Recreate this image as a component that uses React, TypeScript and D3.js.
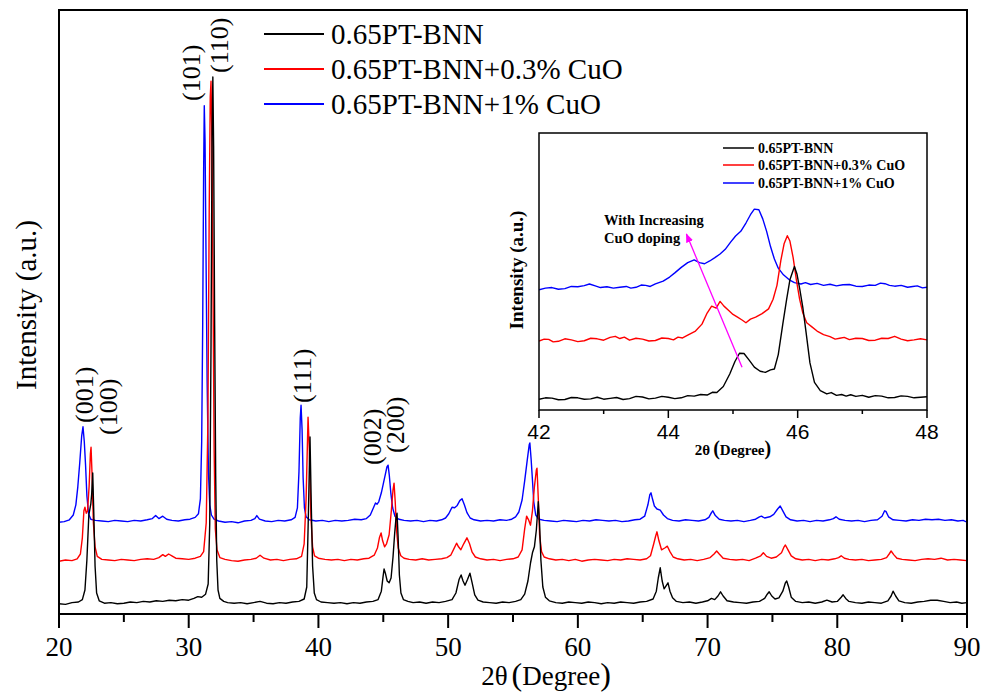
import React from "react";
import * as d3 from "d3";

type Pt = [number, number];

// Series names, colours and vertical stacking offsets
const seriesNames = ["0.65PT-BNN", "0.65PT-BNN+0.3% CuO", "0.65PT-BNN+1% CuO"];
const seriesColors = ["#000000", "#ff0000", "#0000ff"];
const seriesOffsets = [0, 72, 137];

// XRD patterns, 2θ (deg) vs intensity (a.u.)
const blackPattern: Pt[] = [
  [20.0,17],[20.5,16],[21.0,19],[21.5,20],[21.8,24],[22.0,40],[22.15,90],[22.3,165],[22.45,183],[22.52,200],[22.6,235],[22.68,170],[22.78,80],[22.9,35],[23.1,22],[23.5,18],[24.0,19],[24.5,17],[25.0,18],[25.5,20],[26.0,19],[26.5,21],[27.0,20],[27.5,22],[28.0,21],[28.5,23],[29.0,22],[29.5,24],[30.0,23],[30.4,26],[30.7,29],[31.0,28],[31.3,33],[31.5,50],[31.62,150],[31.72,450],[31.8,800],[31.86,895],[31.92,780],[32.0,480],[32.08,230],[32.16,90],[32.26,40],[32.4,26],[32.7,21],[33.0,19],[33.5,18],[34.0,19],[34.5,17],[35.0,19],[35.5,21],[36.0,18],[36.5,17],[37.0,19],[37.5,18],[38.0,20],[38.5,21],[38.9,25],[39.1,45],[39.22,160],[39.35,295],[39.45,180],[39.55,80],[39.68,35],[39.85,24],[40.2,20],[40.7,19],[41.2,18],[41.7,19],[42.2,17],[42.7,19],[43.2,18],[43.7,20],[44.2,21],[44.6,24],[44.85,38],[44.98,62],[45.06,75],[45.16,68],[45.3,55],[45.45,52],[45.6,60],[45.75,95],[45.88,135],[45.98,160],[46.06,168],[46.14,130],[46.24,65],[46.36,35],[46.55,24],[46.9,21],[47.3,19],[47.8,20],[48.3,18],[48.8,20],[49.3,19],[49.8,21],[50.3,24],[50.6,35],[50.85,58],[51.0,65],[51.15,55],[51.3,48],[51.5,58],[51.68,68],[51.85,52],[52.05,32],[52.3,23],[52.7,20],[53.2,19],[53.7,18],[54.2,20],[54.7,19],[55.2,21],[55.6,24],[55.9,33],[56.15,55],[56.35,85],[56.5,102],[56.65,112],[56.8,140],[56.95,187],[57.05,150],[57.15,90],[57.3,45],[57.5,28],[57.8,22],[58.3,19],[58.8,18],[59.3,20],[59.8,19],[60.3,18],[60.8,20],[61.3,19],[61.8,17],[62.3,19],[62.8,18],[63.3,20],[63.8,19],[64.3,18],[64.8,20],[65.3,21],[65.8,25],[66.05,38],[66.2,60],[66.35,77],[66.5,55],[66.65,42],[66.8,47],[66.95,52],[67.1,38],[67.3,27],[67.6,21],[68.1,19],[68.6,20],[69.1,18],[69.6,20],[70.0,22],[70.3,26],[70.55,24],[70.8,30],[71.0,37],[71.2,30],[71.5,22],[72.0,20],[72.5,19],[73.0,18],[73.5,20],[74.0,21],[74.4,26],[74.6,33],[74.75,37],[74.95,30],[75.2,25],[75.5,27],[75.8,38],[76.0,52],[76.1,55],[76.25,45],[76.45,28],[76.8,21],[77.3,19],[77.8,20],[78.3,18],[78.8,20],[79.2,23],[79.6,20],[80.0,21],[80.3,28],[80.45,32],[80.65,26],[80.9,21],[81.4,19],[81.9,18],[82.4,20],[82.9,19],[83.4,18],[83.9,22],[84.15,30],[84.3,38],[84.5,30],[84.75,22],[85.2,19],[85.7,18],[86.2,20],[86.7,21],[87.2,23],[87.7,23],[88.2,21],[88.7,19],[89.2,20],[89.6,18],[90.0,19],
];

const redPattern: Pt[] = [
  [20.0,16],[20.5,18],[21.0,17],[21.4,20],[21.65,28],[21.8,55],[21.92,100],[22.0,106],[22.1,96],[22.2,100],[22.32,140],[22.42,195],[22.47,206],[22.55,160],[22.65,80],[22.78,40],[22.95,24],[23.3,19],[23.8,18],[24.3,17],[24.8,19],[25.3,18],[25.8,17],[26.3,19],[26.8,20],[27.3,19],[27.7,22],[28.0,27],[28.2,24],[28.45,28],[28.7,25],[29.0,21],[29.5,20],[30.0,19],[30.5,21],[30.9,24],[31.15,32],[31.35,80],[31.48,250],[31.58,600],[31.66,790],[31.72,816],[31.8,700],[31.88,450],[31.96,200],[32.05,70],[32.18,35],[32.4,22],[32.8,19],[33.3,17],[33.8,16],[34.3,18],[34.8,19],[35.2,21],[35.5,26],[35.8,21],[36.3,18],[36.8,19],[37.3,17],[37.8,19],[38.3,20],[38.7,24],[38.9,45],[39.05,120],[39.2,256],[39.3,200],[39.42,90],[39.55,40],[39.7,25],[40.0,21],[40.5,19],[41.0,18],[41.5,19],[42.0,17],[42.5,19],[43.0,18],[43.5,20],[43.9,21],[44.3,26],[44.55,38],[44.7,55],[44.83,63],[44.95,50],[45.1,40],[45.25,45],[45.45,60],[45.62,100],[45.75,135],[45.83,146],[45.92,115],[46.02,68],[46.15,38],[46.35,25],[46.6,21],[47.0,19],[47.5,18],[48.0,20],[48.5,18],[49.0,19],[49.5,20],[49.9,22],[50.2,26],[50.45,37],[50.65,46],[50.8,40],[50.98,35],[51.2,45],[51.45,55],[51.65,45],[51.85,31],[52.1,23],[52.5,20],[53.0,18],[53.5,19],[54.0,17],[54.5,19],[55.0,20],[55.4,23],[55.7,35],[55.9,70],[56.05,91],[56.2,85],[56.35,76],[56.5,100],[56.65,140],[56.8,168],[56.85,171],[56.95,120],[57.05,60],[57.2,32],[57.4,23],[57.8,20],[58.3,18],[58.8,19],[59.3,17],[59.8,19],[60.3,16],[60.8,18],[61.3,19],[61.8,18],[62.3,17],[62.8,19],[63.3,18],[63.8,20],[64.3,19],[64.8,18],[65.3,20],[65.6,25],[65.85,45],[66.0,58],[66.1,65],[66.25,50],[66.45,35],[66.7,38],[66.9,41],[67.1,32],[67.35,23],[67.7,20],[68.2,18],[68.7,19],[69.2,17],[69.7,19],[70.2,22],[70.5,28],[70.7,33],[70.9,28],[71.2,21],[71.7,19],[72.2,18],[72.7,19],[73.2,17],[73.7,21],[74.1,25],[74.3,30],[74.55,24],[74.9,21],[75.3,23],[75.7,30],[75.9,40],[76.0,43],[76.2,35],[76.45,25],[76.8,20],[77.3,18],[77.8,19],[78.3,17],[78.8,19],[79.3,18],[79.8,20],[80.1,22],[80.3,25],[80.55,21],[80.9,19],[81.4,18],[81.9,19],[82.4,17],[82.9,18],[83.4,19],[83.8,22],[84.0,28],[84.15,33],[84.35,27],[84.6,21],[85.0,19],[85.5,18],[86.0,17],[86.5,19],[87.0,20],[87.5,19],[88.0,21],[88.5,18],[89.0,19],[89.5,18],[90.0,17],
];

const bluePattern: Pt[] = [
  [20.0,16],[20.4,17],[20.8,20],[21.1,28],[21.3,45],[21.45,75],[21.6,115],[21.75,160],[21.85,175],[21.95,150],[22.05,110],[22.15,60],[22.28,30],[22.45,21],[22.8,19],[23.3,18],[23.8,17],[24.3,19],[24.8,18],[25.3,17],[25.8,19],[26.3,18],[26.8,20],[27.2,22],[27.45,27],[27.7,22],[28.0,26],[28.3,21],[28.7,19],[29.2,18],[29.7,20],[30.1,21],[30.5,24],[30.75,30],[30.9,55],[31.0,150],[31.08,350],[31.15,600],[31.2,710],[31.26,650],[31.33,470],[31.42,250],[31.52,100],[31.62,45],[31.75,28],[31.95,21],[32.3,18],[32.8,16],[33.3,17],[33.8,15],[34.3,18],[34.8,19],[35.1,22],[35.25,27],[35.45,21],[35.9,18],[36.4,17],[36.9,19],[37.4,18],[37.9,20],[38.2,24],[38.38,40],[38.5,100],[38.6,190],[38.66,211],[38.74,170],[38.82,90],[38.92,40],[39.05,25],[39.3,20],[39.8,18],[40.3,19],[40.8,17],[41.3,19],[41.8,18],[42.3,19],[42.8,21],[43.3,20],[43.7,22],[44.0,28],[44.2,38],[44.4,48],[44.52,46],[44.65,50],[44.85,65],[45.0,80],[45.15,95],[45.28,108],[45.37,111],[45.46,95],[45.58,65],[45.72,40],[45.9,26],[46.2,21],[46.6,19],[47.1,18],[47.6,19],[48.1,17],[48.6,19],[49.1,18],[49.5,20],[49.8,23],[50.05,30],[50.3,41],[50.5,40],[50.7,44],[50.9,52],[51.07,55],[51.25,45],[51.45,32],[51.7,23],[52.0,20],[52.5,18],[53.0,19],[53.5,18],[54.0,20],[54.5,19],[54.9,21],[55.2,25],[55.45,33],[55.7,53],[55.9,85],[56.1,120],[56.25,145],[56.3,148],[56.4,120],[56.5,86],[56.6,50],[56.75,28],[57.0,21],[57.4,19],[57.9,18],[58.4,17],[58.9,19],[59.4,18],[59.9,17],[60.4,19],[60.9,18],[61.4,20],[61.9,19],[62.4,18],[62.9,19],[63.4,17],[63.9,18],[64.4,20],[64.8,21],[65.15,26],[65.4,45],[65.55,62],[65.64,65],[65.75,55],[65.9,43],[66.1,38],[66.35,36],[66.6,28],[66.9,22],[67.3,19],[67.8,18],[68.3,20],[68.8,19],[69.3,18],[69.8,20],[70.1,24],[70.3,32],[70.4,35],[70.6,27],[70.9,21],[71.3,19],[71.8,18],[72.3,19],[72.8,17],[73.3,19],[73.7,21],[74.0,25],[74.15,26],[74.4,23],[74.8,25],[75.1,29],[75.4,38],[75.6,43],[75.8,35],[76.05,25],[76.4,20],[76.9,18],[77.4,19],[77.9,17],[78.4,19],[78.9,18],[79.4,20],[79.7,22],[79.9,25],[80.15,21],[80.6,19],[81.1,18],[81.6,19],[82.1,17],[82.6,19],[83.1,20],[83.45,26],[83.65,35],[83.75,34],[83.95,25],[84.3,20],[84.8,19],[85.3,18],[85.8,20],[86.3,19],[86.8,21],[87.3,20],[87.8,21],[88.3,19],[88.8,20],[89.3,18],[89.7,19],[90.0,16],
];

// Enlarged 42–48° window (already stacked)
const insetBlack: Pt[] = [
  [42.0,3.9],[42.1,4.4],[42.2,4.3],[42.3,3.7],[42.4,3.8],[42.5,4.5],[42.6,4.4],[42.7,3.9],[42.8,4.0],[42.9,4.6],[43.0,3.9],[43.1,4.2],[43.2,4.5],[43.3,3.8],[43.4,4.1],[43.5,4.9],[43.6,4.7],[43.7,4.0],[43.8,4.3],[43.9,4.9],[44.0,4.6],[44.1,4.1],[44.2,4.4],[44.3,5.2],[44.4,5.0],[44.5,5.6],[44.6,5.4],[44.68,6.4],[44.75,6.3],[44.85,8.5],[44.95,13],[45.03,17.5],[45.1,20.5],[45.17,20.4],[45.25,18],[45.33,15.5],[45.42,14],[45.5,13.6],[45.58,14.5],[45.64,14.8],[45.7,20],[45.77,31],[45.83,40],[45.88,47],[45.95,51.8],[45.99,49],[46.03,44],[46.08,37],[46.13,28],[46.19,17],[46.26,10],[46.35,7],[46.45,5.8],[46.52,6.3],[46.6,5.3],[46.68,5.6],[46.75,5.0],[46.82,5.5],[46.9,4.9],[47.0,5.3],[47.1,4.6],[47.2,5.2],[47.3,5.0],[47.4,4.4],[47.5,4.5],[47.6,5.1],[47.7,4.9],[47.8,4.4],[47.9,4.6],[48.0,4.8],
];

const insetRed: Pt[] = [
  [42.0,24.9],[42.08,25.6],[42.15,25.5],[42.22,24.6],[42.3,24.8],[42.4,25.7],[42.5,25.3],[42.6,24.7],[42.7,25.0],[42.8,25.9],[42.9,25.7],[43.0,25.2],[43.1,26.2],[43.18,26.6],[43.25,25.8],[43.32,26.3],[43.4,25.2],[43.5,25.9],[43.6,25.6],[43.7,24.9],[43.8,25.1],[43.9,26.0],[44.0,25.8],[44.08,25.3],[44.15,26.3],[44.22,26.0],[44.3,27.0],[44.42,28.5],[44.52,31],[44.6,35],[44.67,37.5],[44.74,36.8],[44.8,39.2],[44.86,37.5],[44.93,36],[45.0,34.5],[45.07,33.5],[45.14,32.5],[45.2,31.5],[45.27,32.8],[45.35,33.5],[45.45,34.8],[45.55,36.5],[45.62,40],[45.68,45],[45.74,54],[45.79,60],[45.84,62.9],[45.88,61],[45.93,55],[45.98,47],[46.03,40],[46.08,35],[46.14,31.5],[46.22,30],[46.3,28.5],[46.4,27.2],[46.5,26.5],[46.58,25.6],[46.65,25.9],[46.72,26.2],[46.8,25.4],[46.9,25.9],[47.0,25.8],[47.1,25.1],[47.2,25.2],[47.3,25.9],[47.4,25.8],[47.5,26.6],[47.6,25.6],[47.7,25.0],[47.8,25.3],[47.9,25.7],[48.0,25.3],
];

const insetBlue: Pt[] = [
  [42.0,43.4],[42.1,44.0],[42.2,44.2],[42.3,43.6],[42.4,43.8],[42.5,44.6],[42.6,44.5],[42.7,44.9],[42.78,45.5],[42.87,44.8],[42.95,44.2],[43.05,44.5],[43.15,44.0],[43.25,44.3],[43.35,44.6],[43.42,44.0],[43.5,44.3],[43.58,45.1],[43.65,45.0],[43.72,44.6],[43.8,45.5],[43.92,46.5],[44.02,48],[44.1,49.5],[44.2,51.5],[44.3,53.2],[44.4,54.2],[44.48,53.2],[44.56,52.8],[44.64,53.8],[44.72,55],[44.8,56.3],[44.88,58],[44.96,60.5],[45.04,62.8],[45.12,64.5],[45.2,67.5],[45.27,70.5],[45.33,72.5],[45.4,72.3],[45.46,69],[45.52,64.5],[45.58,59],[45.64,54.5],[45.7,51.2],[45.78,48.8],[45.87,47],[45.95,46],[46.05,45.5],[46.12,46.0],[46.2,45.3],[46.3,45.7],[46.4,45.0],[46.5,45.4],[46.6,44.8],[46.7,45.2],[46.8,45.3],[46.9,44.7],[47.0,44.6],[47.1,45.1],[47.2,45.0],[47.28,45.8],[47.35,45.6],[47.42,45.0],[47.5,44.7],[47.6,45.0],[47.7,44.3],[47.78,44.6],[47.85,44.8],[47.93,44.1],[48.0,44.3],
];

// Axis ticks
const mainTicks = [20, 30, 40, 50, 60, 70, 80, 90];
const mainMinorTicks = [25, 35, 45, 55, 65, 75, 85];
const insetTicks = [42, 44, 46, 48];
const insetMinorTicks = [43, 45, 47];

// Reflection indices and their 2θ positions
const peakLabels = ["(001)", "(100)", "(101)", "(110)", "(111)", "(002)", "(200)"];
const peakLabelAngles = [21.93, 23.78, 30.18, 32.34, 38.81, 44.13, 45.98];

// Doping trend arrow in the inset (2θ, intensity)
const trendArrow: Pt[] = [[45.14, 15.4], [44.28, 63.5]];
const trendText = ["With Increasing", "CuO doping"];

const SERIF = "Liberation Serif, DejaVu Serif, serif";
const SANS = "Liberation Sans, Arial, sans-serif";

export default function App() {
  // Main frame
  const L = 59, R = 967, T = 10, B = 614;
  const x = d3.scaleLinear().domain([20, 90]).range([L, R]);
  const y = d3.scaleLinear().domain([0, 1000]).range([B, 14]);

  // Inset frame
  const iL = 539, iR = 927, iT = 133, iB = 410;
  const ix = d3.scaleLinear().domain([42, 48]).range([iL, iR]);
  const iy = d3.scaleLinear().domain([0, 100]).range([iB, iT]);

  const patterns = [blackPattern, redPattern, bluePattern];
  const insetPatterns = [insetBlack, insetRed, insetBlue];

  const mainLine = (off: number) =>
    d3.line<Pt>().x((d) => x(d[0])).y((d) => y(d[1] + off));
  const insetLine = d3.line<Pt>().x((d) => ix(d[0])).y((d) => iy(d[1]));

  const labelBottoms = [423, 435, 101, 73, 403, 465, 453];
  const drawOrder = [2, 1, 0];

  const legendRows = [34, 69, 104];
  const insetLegendRows = [148, 165, 183];

  const a0 = trendArrow[0], a1 = trendArrow[1];

  return (
    <svg width={985} height={693} style={{ position: "absolute", left: 0, top: 0, background: "#fff" }}>
      <defs>
        <clipPath id="mainClip">
          <rect x={L} y={T} width={R - L} height={B - T} />
        </clipPath>
        <clipPath id="insetClip">
          <rect x={iL} y={iT} width={iR - iL} height={iB - iT} />
        </clipPath>
        <marker id="arrowHead" viewBox="0 0 10 10" refX="9" refY="5" markerWidth="7" markerHeight="7" orient="auto">
          <path d="M0,1 L10,5 L0,9 Z" fill="#ff00ff" />
        </marker>
      </defs>
      <rect x={0} y={0} width={985} height={693} fill="#fff" />

      {/* Main patterns */}
      <g clipPath="url(#mainClip)">
        {drawOrder.map((i) => (
          <path key={i} d={mainLine(seriesOffsets[i])(patterns[i]) || ""} fill="none"
            stroke={seriesColors[i]} strokeWidth={1.4} strokeLinejoin="round" />
        ))}
      </g>

      {/* Main frame and bottom axis */}
      <rect x={L} y={T} width={R - L} height={B - T} fill="none" stroke="#000" strokeWidth={2} />
      {mainTicks.map((t) => (
        <g key={t}>
          <line x1={x(t)} x2={x(t)} y1={B} y2={B + 14} stroke="#000" strokeWidth={2} />
          <text x={x(t)} y={656} textAnchor="middle" style={{ fontFamily: SERIF }} fontSize={27}>{t}</text>
        </g>
      ))}
      {mainMinorTicks.map((t) => (
        <line key={t} x1={x(t)} x2={x(t)} y1={B} y2={B + 8} stroke="#000" strokeWidth={2} />
      ))}
      <text x={546} y={685} textAnchor="middle" style={{ fontFamily: SERIF }} fontSize={27}>
        2θ<tspan fontSize={32} dx={4}>(</tspan>Degree<tspan fontSize={32}>)</tspan>
      </text>
      <text transform="translate(36,305) rotate(-90)" textAnchor="middle" style={{ fontFamily: SERIF }} fontSize={29}>
        Intensity (a.u.)
      </text>

      {/* Reflection labels */}
      {peakLabels.map((lab, i) => (
        <text key={lab} transform={`translate(${x(peakLabelAngles[i])},${labelBottoms[i]}) rotate(-90)`}
          dominantBaseline="central" style={{ fontFamily: SERIF }} fontSize={26}>{lab}</text>
      ))}

      {/* Main legend */}
      {seriesNames.map((n, i) => (
        <g key={n}>
          <line x1={264} x2={324} y1={legendRows[i]} y2={legendRows[i]} stroke={seriesColors[i]} strokeWidth={2} />
          <text x={331} y={legendRows[i]} dominantBaseline="central" style={{ fontFamily: SERIF }} fontSize={29}>{n}</text>
        </g>
      ))}

      {/* Inset */}
      <rect x={iL} y={iT} width={iR - iL} height={iB - iT} fill="#fff" />
      <g clipPath="url(#insetClip)">
        {drawOrder.map((i) => (
          <path key={i} d={insetLine(insetPatterns[i]) || ""} fill="none"
            stroke={seriesColors[i]} strokeWidth={1.4} strokeLinejoin="round" />
        ))}
      </g>
      <rect x={iL} y={iT} width={iR - iL} height={iB - iT} fill="none" stroke="#000" strokeWidth={1.5} />
      {insetTicks.map((t) => (
        <g key={t}>
          <line x1={ix(t)} x2={ix(t)} y1={iB} y2={iB + 8} stroke="#000" strokeWidth={1.5} />
          <text x={ix(t)} y={439} textAnchor="middle" style={{ fontFamily: SANS }} fontSize={21}>{t}</text>
        </g>
      ))}
      {insetMinorTicks.map((t) => (
        <line key={t} x1={ix(t)} x2={ix(t)} y1={iB} y2={iB + 4} stroke="#000" strokeWidth={1.5} />
      ))}
      <text x={733} y={455} textAnchor="middle" style={{ fontFamily: SERIF }} fontWeight="bold" fontSize={15}>
        2θ<tspan fontSize={20} dx={3}>(</tspan>Degree<tspan fontSize={20}>)</tspan>
      </text>
      <text transform="translate(523,270) rotate(-90)" textAnchor="middle" style={{ fontFamily: SERIF }} fontWeight="bold" fontSize={19}>
        Intensity (a.u.)
      </text>
      {seriesNames.map((n, i) => (
        <g key={n}>
          <line x1={723} x2={754} y1={insetLegendRows[i]} y2={insetLegendRows[i]} stroke={seriesColors[i]} strokeWidth={1.5} />
          <text x={758} y={insetLegendRows[i]} dominantBaseline="central" style={{ fontFamily: SERIF }} fontWeight="bold" fontSize={14}>{n}</text>
        </g>
      ))}
      <line x1={ix(a0[0])} y1={iy(a0[1])} x2={ix(a1[0])} y2={iy(a1[1])} stroke="#ff00ff" strokeWidth={1.3} markerEnd="url(#arrowHead)" />
      <text x={604} y={225} style={{ fontFamily: SERIF }} fontWeight="bold" fontSize={14.5}>{trendText[0]}</text>
      <text x={604} y={243} style={{ fontFamily: SERIF }} fontWeight="bold" fontSize={14.5}>{trendText[1]}</text>
    </svg>
  );
}
